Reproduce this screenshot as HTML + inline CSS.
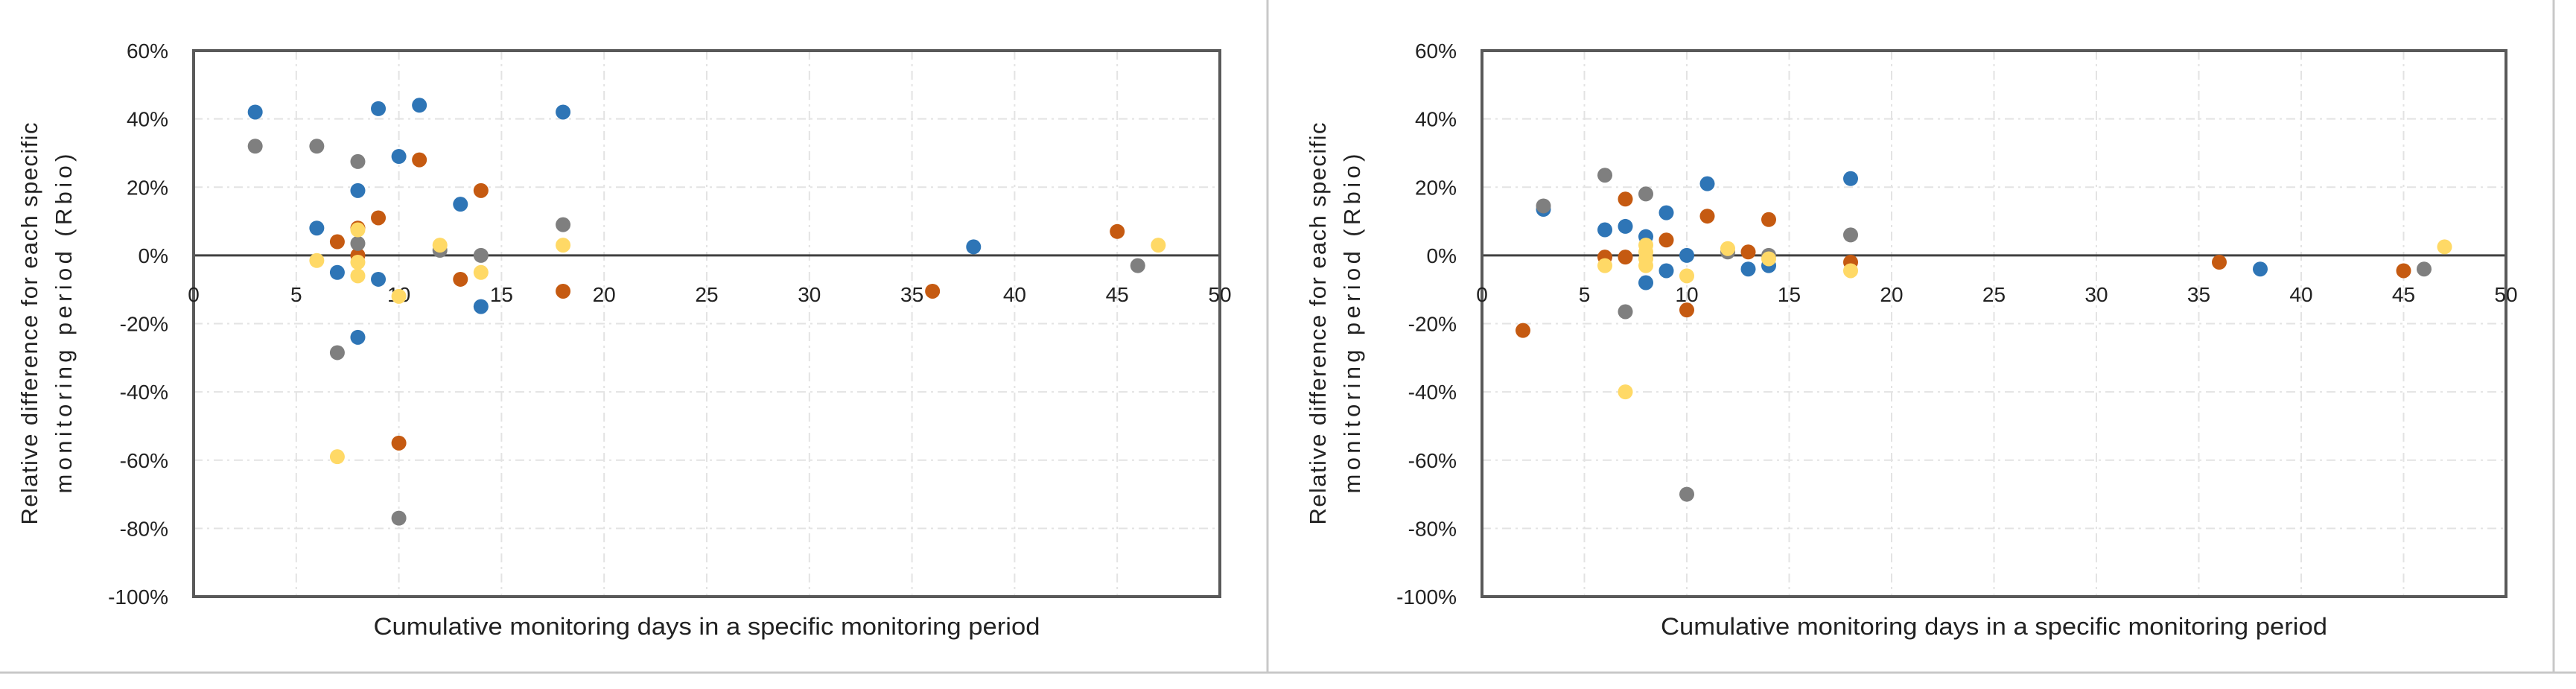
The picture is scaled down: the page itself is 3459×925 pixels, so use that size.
<!DOCTYPE html>
<html><head><meta charset="utf-8"><style>
html,body{margin:0;padding:0;background:#fff;}
svg{display:block;font-family:"Liberation Sans",sans-serif;}
</style></head><body>
<svg id="root" width="3459" height="925" viewBox="0 0 3459 925">
<line x1="1702" y1="0" x2="1702" y2="903" stroke="#c8c8c8" stroke-width="3"/>
<line x1="3429" y1="0" x2="3429" y2="903" stroke="#c8c8c8" stroke-width="3"/>
<line x1="0" y1="903" x2="3459" y2="903" stroke="#c8c8c8" stroke-width="3"/>
</svg>
<script>
const xTicks=[0,5,10,15,20,25,30,35,40,45,50];
const yTicks=[60,40,20,0,-20,-40,-60,-80,-100];
const seriesNames=["blue","orange","gray","yellow"];
const seriesColors=["#2E75B6","#C55A11","#7F7F7F","#FFD966"];
// left chart
const L_blueX=[3,9,11,18,10,8,13,6,7,9,14,8,38];
const L_blueY=[42,43,44,42,29,19,15,8,-5,-7,-15,-24,2.5];
const L_grayX=[3,6,8,18,8,12,14,46,7,10];
const L_grayY=[32,32,27.5,9,3.5,1.5,0,-3,-28.5,-77];
const L_orangeX=[11,14,9,8,7,8,13,18,36,10,45];
const L_orangeY=[28,19,11,8,4,0,-7,-10.5,-10.5,-55,7];
const L_yellowX=[8,12,18,47,6,8,8,14,10,7];
const L_yellowY=[7.5,3,3,3,-1.5,-2,-6,-5,-12,-59];
// right chart
const R_blueX=[3,6,7,8,9,11,18,10,8,9,13,14,38];
const R_blueY=[13.5,7.5,8.5,5.5,12.5,21,22.5,0,-8,-4.5,-4,-3,-4];
const R_grayX=[3,6,8,18,12,14,7,10,46];
const R_grayY=[14.5,23.5,18,6,1,0,-16.5,-70,-4];
const R_orangeX=[7,11,14,9,13,6,7,18,36,45,10,2];
const R_orangeY=[16.5,11.5,10.5,4.5,1,-0.5,-0.5,-2,-2,-4.5,-16,-22];
const R_yellowX=[8,8,8,8,12,14,6,10,18,47,7];
const R_yellowY=[3,1,-1,-3,2,-1,-3,-6,-4.5,2.5,-40];

const NS="http://www.w3.org/2000/svg";
const root=document.getElementById('root');
function mk(tag,attrs,parent){const e=document.createElementNS(NS,tag);for(const k in attrs)e.setAttribute(k,attrs[k]);(parent||root).appendChild(e);return e;}

function chart(prefix,x0,x1,ylab,series){
  const y0=68,y1=801;
  const sx=v=>x0+(v-0)/(50-0)*(x1-x0);
  const sy=v=>y0+(60-v)/(160)*(y1-y0);
  const g=mk('g',{});
  
  
  xTicks.forEach(t=>{if(t===0||t===50)return;
    const l=mk('line',{x1:sx(t),x2:sx(t),y1:y0,y2:y1,stroke:'#e3e3e3','stroke-width':2,'stroke-dasharray':'12,6,3,6'},g);
    
    });
  yTicks.forEach(t=>{if(t===60||t===-100||t===0)return;
    const l=mk('line',{x1:x0,x2:x1,y1:sy(t),y2:sy(t),stroke:'#e3e3e3','stroke-width':2,'stroke-dasharray':'12,6,3,6'},g);
    
    });
  const zl=mk('line',{x1:x0,x2:x1,y1:sy(0),y2:sy(0),stroke:'#404040','stroke-width':3},g);
  
  
  const fr=mk('rect',{x:x0,y:y0,width:x1-x0,height:y1-y0,fill:'none',stroke:'#595959','stroke-width':4},g);
  
  
  yTicks.forEach(t=>{
    const tx=mk('text',{x:x0-34,y:sy(t)+10,'text-anchor':'end','font-size':28,fill:'#222'},g);
    tx.textContent=t+'%';
    
    });
  xTicks.forEach(t=>{
    const tx=mk('text',{x:sx(t),y:sy(0)+62,'text-anchor':'middle','font-size':28,fill:'#222'},g);
    tx.textContent=t;
    
    });
  const xt=mk('text',{x:(x0+x1)/2,y:852,'text-anchor':'middle','font-size':32,fill:'#222',textLength:895,lengthAdjust:'spacingAndGlyphs'},g);
  xt.textContent='Cumulative monitoring days in a specific monitoring period';
  
  
  const yt=mk('text',{transform:`translate(${ylab},${(y0+y1)/2}) rotate(-90)`,'text-anchor':'middle','font-size':31,fill:'#222'},g);
  
  
  const t1=mk('tspan',{x:0,dy:0,textLength:540},yt);t1.textContent='Relative difference for each specific';
  const t2=mk('tspan',{x:0,dy:46,textLength:456},yt);t2.textContent='monitoring period (Rbio)';
  series.forEach((s,i)=>{
    s[0].forEach((xv,j)=>{
      const c=mk('circle',{cx:sx(xv),cy:sy(s[1][j]),r:10,fill:seriesColors[i]},g);
      
      
    });
  });
}
chart('left',260,1638,50,[[L_blueX,L_blueY],[L_orangeX,L_orangeY],[L_grayX,L_grayY],[L_yellowX,L_yellowY]]);
chart('right',1990,3365,1780,[[R_blueX,R_blueY],[R_orangeX,R_orangeY],[R_grayX,R_grayY],[R_yellowX,R_yellowY]]);
</script>
</body></html>
